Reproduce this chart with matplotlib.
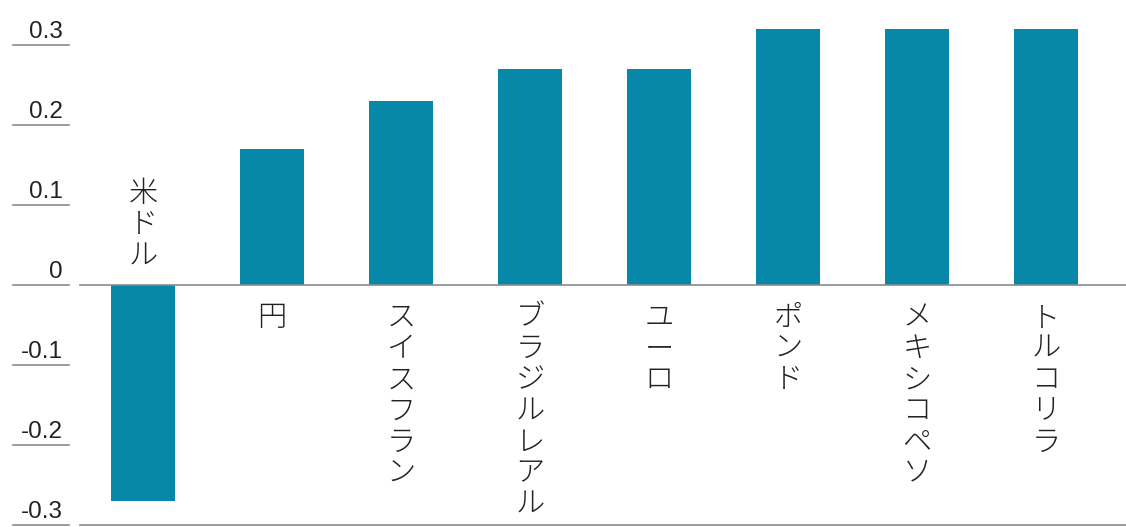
import matplotlib
matplotlib.use("Agg")
import matplotlib.pyplot as plt

currencies = ["米ドル", "円", "スイスフラン", "ブラジルレアル", "ユーロ", "ポンド", "メキシコペソ", "トルコリラ"]
values = [-0.27, 0.17, 0.23, 0.27, 0.27, 0.32, 0.32, 0.32]
yticks = [0.3, 0.2, 0.1, 0, -0.1, -0.2, -0.3]
ytick_labels = ["0.3", "0.2", "0.1", "0", "-0.1", "-0.2", "-0.3"]

bar_color = "#0888a8"
line_color = "#8a8a8a"
text_color = "#222222"

plt.rcParams['font.family'] = ['Noto Sans CJK JP', 'DejaVu Sans']

W, H = 1126, 527
fig = plt.figure(figsize=(W / 100, H / 100), dpi=100)
ax = fig.add_axes([0, 0, 1, 1])
ax.set_axis_off()

x = list(range(len(currencies)))
ax.bar(x, values, width=0.5, color=bar_color, zorder=2)

# pixel layout: first bar centre at 143 px, spacing 129 px
ax.set_xlim(-143 / 129, (W - 143) / 129)
ax.set_ylim(-0.302, 0.3 + 45 / 800)

ytr = ax.get_yaxis_transform()
for v, lab in zip(yticks, ytick_labels):
    ax.plot([13 / W, 69 / W], [v, v], color=line_color, lw=1.2, transform=ytr, zorder=1)
    ax.annotate(lab, (63 / W, v), xycoords=ytr, xytext=(0, 7), textcoords='offset pixels',
                ha='right', va='baseline', fontsize=17.5, color=text_color,
                family=['Liberation Sans Narrow', 'Liberation Sans', 'DejaVu Sans'])

for v in [0, -0.3]:
    ax.plot([80 / W, 1], [v, v], color=line_color, lw=1.2, transform=ytr, zorder=3)

for xi, name, v in zip(x, currencies, values):
    stacked = "\n".join(name)
    if v < 0:
        ax.annotate(stacked, (xi, 0), xytext=(0, 14), textcoords='offset pixels',
                    ha='center', va='bottom', fontsize=21, linespacing=1.03,
                    color=text_color, fontweight='light')
    else:
        ax.annotate(stacked, (xi, 0), xytext=(0, -17), textcoords='offset pixels',
                    ha='center', va='top', fontsize=21, linespacing=1.03,
                    color=text_color, fontweight='light')

fig.savefig("out.png", dpi=100, facecolor="white")
